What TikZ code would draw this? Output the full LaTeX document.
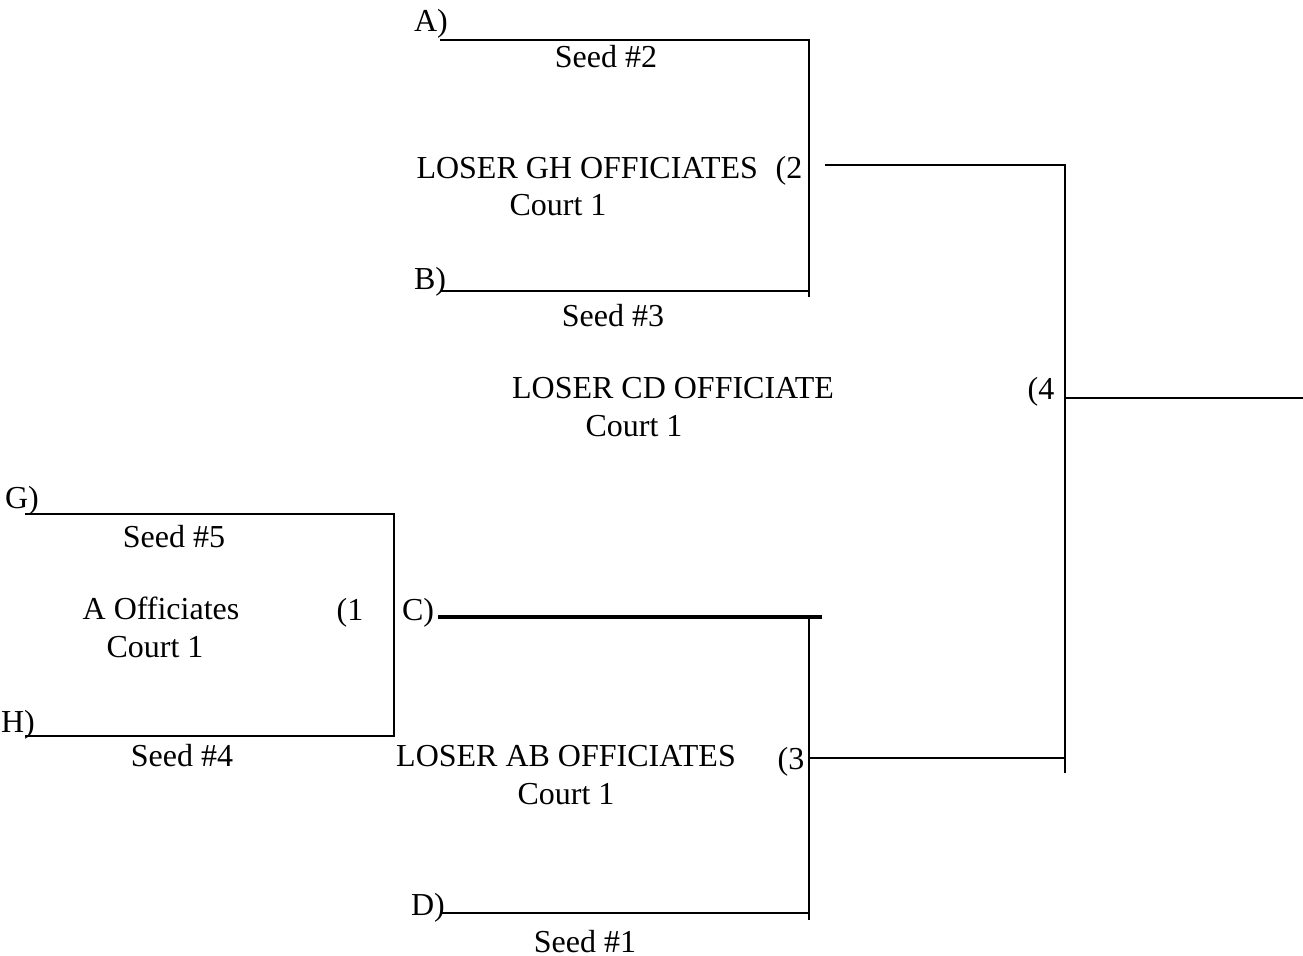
\documentclass[tikz,border=0pt]{standalone}
\usepackage{fontspec}
\setmainfont{Liberation Serif}
\begin{document}
\begin{tikzpicture}[x=0.375pt,y=-0.375pt,
  line/.style={line width=0.75pt},
  thick line/.style={line width=1.15pt},
  lbl/.style={inner sep=0pt,anchor=base,font=\fontsize{12}{14}\selectfont},
  lblw/.style={inner sep=0pt,anchor=base west,font=\fontsize{12}{14}\selectfont}]
\useasboundingbox (0,0) rectangle (1303,956);
% coordinates
\coordinate (a0) at (440,40);  \coordinate (a1) at (809,40);
\coordinate (b0) at (441,291); \coordinate (b1) at (809,291); \coordinate (b2) at (809,297);
\coordinate (w20) at (825,165); \coordinate (w21) at (1065,165);
\coordinate (w4b) at (1065,773);
\coordinate (f0) at (1065,398); \coordinate (f1) at (1303,398);
\coordinate (w30) at (809,758); \coordinate (w31) at (1065,758);
\coordinate (g0) at (25,514); \coordinate (g1) at (394,514);
\coordinate (h0) at (25,736); \coordinate (h1) at (394,736);
\coordinate (c0) at (438,617); \coordinate (c1) at (822,617); \coordinate (c2) at (809,617);
\coordinate (d0) at (442,913); \coordinate (d1) at (809,913); \coordinate (d2) at (809,920);
% lines
\draw[line] (a0) -- (a1) -- (b2);
\draw[line] (b0) -- (b1);
\draw[line] (w20) -- (w21) -- (w4b);
\draw[line] (f0) -- (f1);
\draw[line] (w30) -- (w31);
\draw[line] (g0) -- (g1) -- (h1) -- (h0);
\draw[thick line] (c0) -- (c1);
\draw[line] (c2) -- (d2);
\draw[line] (d0) -- (d1);
% labels
\node[lbl] (tA) at (431,32) {A)};
\node[lbl] (s2) at (606,68) {Seed \#2};
\node[lblw] (lgh) at (416,179) {LOSER GH OFFICIATES};
\node[lbl] (m2) at (789,179) {(2};
\node[lbl] (c1a) at (558,215) {Court 1};
\node[lbl] (tB) at (430,289) {B)};
\node[lbl] (s3) at (613,326) {Seed \#3};
\node[lbl] (lcd) at (673,398) {LOSER CD OFFICIATE};
\node[lbl] (c1b) at (634,436) {Court 1};
\node[lbl] (m4) at (1041,399) {(4};
\node[lbl] (tG) at (22,508) {G)};
\node[lbl] (s5) at (174,547) {Seed \#5};
\node[lbl] (aoff) at (161,619) {A Officiates};
\node[lbl] (m1) at (350,620) {(1};
\node[lbl] (tC) at (418,620) {C)};
\node[lbl] (c1c) at (155,657) {Court 1};
\node[lbl] (tH) at (18,732) {H)};
\node[lbl] (s4) at (182,766) {Seed \#4};
\node[lbl] (lab) at (566,766) {LOSER AB OFFICIATES};
\node[lbl] (m3) at (791,769) {(3};
\node[lbl] (c1d) at (566,804) {Court 1};
\node[lbl] (tD) at (428,915) {D)};
\node[lbl] (s1) at (585,952) {Seed \#1};
\end{tikzpicture}
\end{document}
